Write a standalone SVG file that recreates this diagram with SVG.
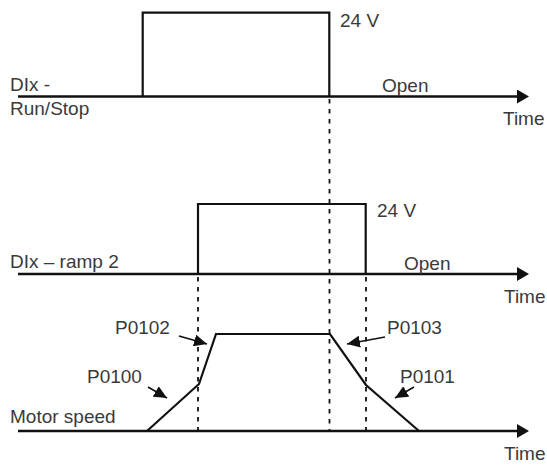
<svg xmlns="http://www.w3.org/2000/svg" width="547" height="465" viewBox="0 0 547 465">
<defs>
<marker id="axisHead" markerUnits="userSpaceOnUse" markerWidth="12" markerHeight="14" refX="0" refY="7" orient="auto">
<path d="M0,0 L12,7 L0,14 Z" fill="#111"/>
</marker>
<marker id="noteHead" markerUnits="userSpaceOnUse" markerWidth="13" markerHeight="12" refX="13" refY="6" orient="auto">
<path d="M0,0 L13,6 L0,12 Z" fill="#111"/>
</marker>
</defs>
<style>
text{font-family:"Liberation Sans",Arial,sans-serif;font-size:19px;fill:#3a3a3a}
.axis{stroke:#111;stroke-width:2.6;fill:none}
.sig{stroke:#111;stroke-width:2.2;fill:none}
.dash{stroke:#111;stroke-width:1.8;stroke-dasharray:4.5 5.5;fill:none}
.note{stroke:#111;stroke-width:1.6;fill:none}
</style>
<rect width="547" height="465" fill="#fff"/>
<g id="connectors">
<line class="dash" x1="329.5" y1="99" x2="329.5" y2="431"/>
<line class="dash" x1="198" y1="277" x2="198" y2="431"/>
<line class="dash" x1="366" y1="277" x2="366" y2="431"/>
<line class="axis" x1="18" y1="96.5" x2="517" y2="96.5" marker-end="url(#axisHead)"/>
<line class="axis" x1="18" y1="274" x2="517" y2="274" marker-end="url(#axisHead)"/>
<line class="axis" x1="18" y1="431" x2="517" y2="431" marker-end="url(#axisHead)"/>
<line class="note" x1="179" y1="336" x2="207" y2="344" marker-end="url(#noteHead)"/>
<line class="note" x1="148" y1="387" x2="167" y2="398" marker-end="url(#noteHead)"/>
<line class="note" x1="385" y1="337" x2="347" y2="344" marker-end="url(#noteHead)"/>
<line class="note" x1="414" y1="387" x2="395" y2="398" marker-end="url(#noteHead)"/>
</g>
<g id="run-stop">
<polyline class="sig" points="142.7,96.5 142.7,12.7 329.3,12.7 329.3,96.5"/>
<text x="340" y="27">24 V</text>
<text x="10" y="90.5">DIx -</text>
<text x="10" y="115">Run/Stop</text>
<text x="382" y="91.5">Open</text>
<text x="503" y="125">Time</text>
</g>
<g id="ramp2">
<polyline class="sig" points="198,274 198,204 365.7,204 365.7,274"/>
<text x="377" y="217">24 V</text>
<text x="10" y="268">DIx – ramp 2</text>
<text x="404" y="270">Open</text>
<text x="504" y="303">Time</text>
</g>
<g id="motor-speed">
<polyline class="sig" points="147,431 199,384 216,334 330,334 366,385 419,431"/>
<text x="10" y="423">Motor speed</text>
<text x="115" y="334">P0102</text>
<text x="87" y="383">P0100</text>
<text x="387" y="334">P0103</text>
<text x="400" y="383">P0101</text>
<text x="504" y="460">Time</text>
</g>
</svg>
